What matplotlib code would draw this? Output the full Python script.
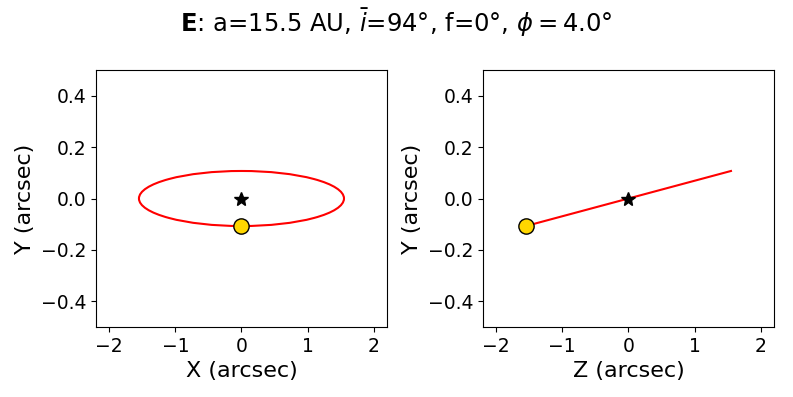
"""Orbit projection of planet E, sky plane and side view."""

import matplotlib
matplotlib.use("Agg")
import matplotlib.pyplot as plt
from matplotlib.patches import Ellipse

# orbit in arcsec
orbit_center = (0.0, 0.0)
orbit_semi_major = 1.55
orbit_semi_minor_proj = 0.107
star_xy = (0.0, 0.0)
planet_xy = (0.0, -0.107)
# side view: edge-on line Z vs Y
line_z = [-1.55, 1.55]
line_y = [-0.107, 0.107]
star_zy = (0.0, 0.0)
planet_zy = (-1.55, -0.107)

title = r"$\bf{E}$: a=15.5 AU, $\bar{i}$=94°, f=0°, $\phi = 4.0$°"
xlim = (-2.2, 2.2)
ylim = (-0.5, 0.5)

fig = plt.figure(figsize=(7.93, 3.97), dpi=100)
ax1 = fig.add_axes([0.121, 0.176, 0.367, 0.648])
ax2 = fig.add_axes([0.609, 0.176, 0.367, 0.648])

ell = Ellipse(orbit_center, 2 * orbit_semi_major, 2 * orbit_semi_minor_proj,
              fill=False, edgecolor='red', lw=1.5)
ax1.add_patch(ell)
ax1.plot(*star_xy, marker='*', color='black', ms=10, ls='none')
ax1.plot(*planet_xy, marker='o', mfc='gold', mec='black', ms=11, ls='none', zorder=5)
ax1.set_xlabel('X (arcsec)', fontsize=16)
ax1.set_ylabel('Y (arcsec)', fontsize=16)

ax2.plot(line_z, line_y, color='red', lw=1.5)
ax2.plot(*star_zy, marker='*', color='black', ms=10, ls='none')
ax2.plot(*planet_zy, marker='o', mfc='gold', mec='black', ms=11, ls='none', zorder=5)
ax2.set_xlabel('Z (arcsec)', fontsize=16)
ax2.set_ylabel('Y (arcsec)', fontsize=16)

for ax in (ax1, ax2):
    ax.set_xlim(*xlim)
    ax.set_ylim(*ylim)
    ax.set_xticks([-2, -1, 0, 1, 2])
    ax.set_yticks([-0.4, -0.2, 0.0, 0.2, 0.4])
    ax.tick_params(labelsize=13.5)

fig.suptitle(title, fontsize=17.5, y=0.985)
fig.savefig('out.png', dpi=100)
